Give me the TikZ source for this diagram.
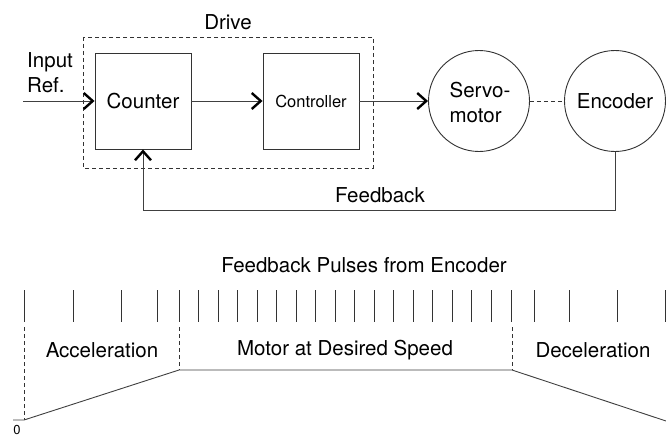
\documentclass[tikz,border=0pt]{standalone}
\usepackage{fontspec}
\setmainfont{TeX Gyre Heros}
\usetikzlibrary{arrows.meta}
\tikzset{fbtip/.tip={Straight Barb[length=9pt,width=16pt,line width=2.4pt,color=black]}}
\begin{document}
\begin{tikzpicture}[x=1pt,y=-1pt,
  txt/.style={font=\fontsize{20.5}{25}\selectfont, inner sep=0pt},
  blk/.style={draw=black!80, line width=0.9pt, minimum width=96pt, minimum height=96pt, inner sep=0pt},
  rnd/.style={draw=black!80, line width=0.9pt, circle, minimum size=101pt, inner sep=0pt},
  wire/.style={draw=black!75, line width=0.9pt},
  arr/.style={wire, arrows={-fbtip}},
  dsh/.style={draw=black!80, line width=0.9pt, dash pattern=on 4pt off 3pt},
  tick/.style={draw=black!80, line width=1pt}]
\useasboundingbox (0,0) rectangle (666,436);
\fill[white] (0,0) rectangle (666,436);

% top diagram
\node[txt] (drive) at (228,22) {Drive};
\draw[dsh] (83,37) rectangle (373,168);
\node[blk] (counter) at (143,101) {};
\node[txt] at (counter.center) {Counter};
\node[blk] (ctrl) at (311,101) {};
\node[txt, font=\fontsize{16.5}{20}\selectfont] at (ctrl.center) {Controller};
\node[rnd] (servo) at (479,101) {};
\node[txt, align=left] at (480,102) {Servo-\\motor};
\node[rnd] (enc) at (615,101) {};
\node[txt] at (enc.center) {Encoder};

\node[txt, align=left, anchor=north west] (inp) at (27,52) {Input\\Ref.};
\coordinate (inref) at (23,101);
\draw[arr] (inref) -- (counter.west);
\draw[arr] (counter.east) -- (ctrl.west);
\draw[arr] (ctrl.east) -- (servo.west);
\draw[dsh] (servo.east) -- (enc.west);
\coordinate (fbc) at (615,210);
\draw[arr] (enc.south) -- (fbc) -| (counter.south);
\node[txt, anchor=west] (fbl) at (335,195) {Feedback};

% bottom diagram
\node[txt] (fpe) at (364,265) {Feedback Pulses from Encoder};
\foreach \x in {24,73,121,157,534,569,617,665}
  \draw[tick] (\x,290) -- (\x,322);
\foreach \i in {0,...,17}
  \draw[tick] ({179+\i*19.53},290) -- ({179+\i*19.53},322);

\draw[dsh] (24,327) -- (24,420);
\draw[dsh] (179,327) -- (179,370);
\draw[dsh] (512,327) -- (512,370);
\draw[wire] (13,420) -- (24,420) -- (179,370) -- (512,370) -- (666,421);
\node[txt, font=\fontsize{13}{15}\selectfont, anchor=south] (zero) at (17,435) {0};

\node[txt] (acc) at (102,350) {Acceleration};
\node[txt] (mds) at (345,350) {Motor at Desired Speed};
\node[txt] (dec) at (593,350) {Deceleration};
\end{tikzpicture}
\end{document}
